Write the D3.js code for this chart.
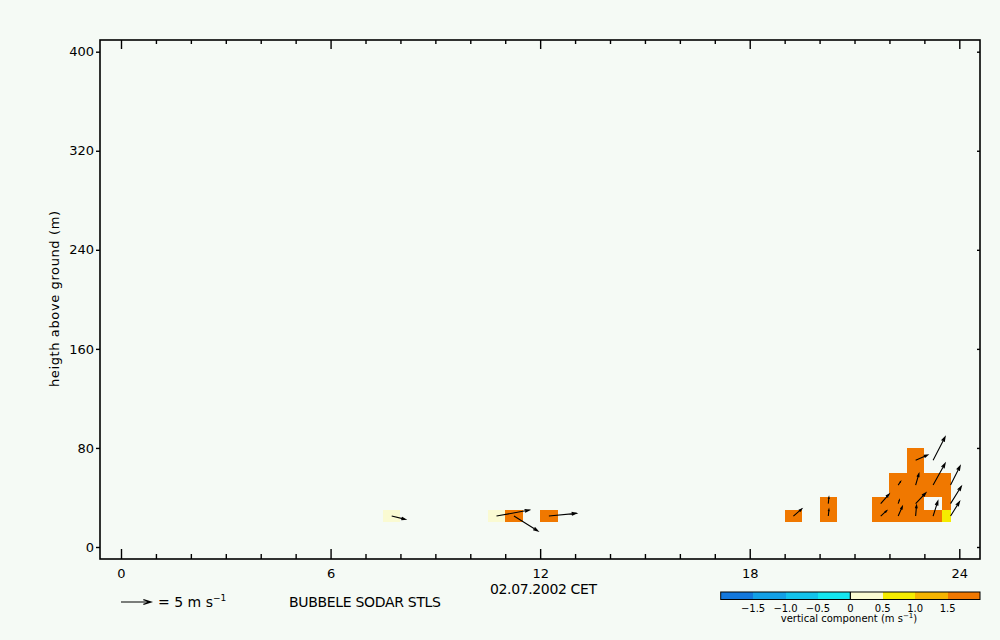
<!DOCTYPE html>
<html><head><meta charset="utf-8">
<script src="https://cdn.jsdelivr.net/npm/d3@7"></script>
<style>
html,body{margin:0;padding:0;background:#f5faf5;}
svg{display:block;}
text{font-family:"DejaVu Sans",sans-serif;fill:#000;}
</style>
</head><body>
<svg id="c" width="1000" height="640"></svg>
<script>
// ---- data ----
const obsTime   = [7.75, 10.75, 11.25, 12.25, 19.25, 20.25, 20.25, 21.75, 21.75, 22.25, 22.25, 22.25, 22.75, 22.75, 22.75, 22.75, 23.25, 23.25, 23.25, 23.75, 23.75, 23.75];
const obsHeight = [25,   25,    25,    25,    25,    25,    35,    25,    35,    25,    35,    50,    25,    35,    50,    70,    25,    50,    70,    25,    35,    50];
const obsW      = [0.3,  0.3,   1.7,   1.7,   1.7,   1.7,   1.7,   1.7,   1.7,   1.7,   1.7,   1.7,   1.7,   1.7,   1.7,   1.7,   1.7,   1.7,   null,  0.8,   1.7,   1.7];
const obsU      = [2.3,  5.5,   4.0,   4.6,   1.4,   0.1,   0.1,   1.0,   1.4,   0.7,   0.2,   0.4,   0.15,  1.7,   0.55,  2.0,   0.8,   2.0,   2.0,   1.5,   1.8,   1.6];
const obsV      = [-0.55,1.0,  -2.5,   0.45,  1.2,   1.1,   1.1,   0.9,   1.6,   1.6,   0.6,   0.6,   1.8,   1.8,   1.9,   0.9,   2.5,   3.6,   3.9,   2.4,   2.9,   3.2];

const gateHeights = [25, 35, 50, 70];
const gateLow     = [20, 30, 40, 60];
const gateHigh    = [30, 40, 60, 80];

const xTicks = [0, 6, 12, 18, 24];
const xMinorTicks = d3.range(0, 25, 1);
const yTicks = [0, 80, 160, 240, 320, 400];
const wThresholds = [-1.5, -1.0, -0.5, 0, 0.5, 1.0, 1.5];
const wColors = ["#1478dc", "#14a0e6", "#14c3ec", "#14e6f0", "#fafad2", "#f5ec00", "#f5b400", "#f07800"];
const legendTicks = [-1.5, -1.0, -0.5, 0, 0.5, 1.0, 1.5];
const legendLabels = ["\u22121.5", "\u22121.0", "\u22120.5", "0", "0.5", "1.0", "1.5"];
const refSpeed = 5;

// ---- layout ----
const svg = d3.select("#c");
svg.append("rect").attr("width", 1000).attr("height", 640).attr("fill", "#f5faf5");
const F = {l: 100, t: 40, r: 980, b: 559};
const x = d3.scaleLinear().domain([0, 24]).range([121, 959.3]);
const y = d3.scaleLinear().domain([0, 400]).range([547, 51.7]);
const color = d3.scaleThreshold().domain(wThresholds).range(wColors);
const pxPerMs = 6;
const tEnd = d3.max(obsTime);

const obs = obsTime.map((t, i) => {
  const g = gateHeights.indexOf(obsHeight[i]);
  return {t, h: obsHeight[i], w: obsW[i], u: obsU[i], v: obsV[i], lo: gateLow[g], hi: gateHigh[g]};
});

// cells
svg.append("g").selectAll("rect").data(obs.filter(d => d.w !== null)).join("rect")
  .attr("shape-rendering", "crispEdges")
  .attr("x", d => x(d.t - 0.25))
  .attr("width", d => x(Math.min(d.t + 0.25, tEnd)) - x(d.t - 0.25))
  .attr("y", d => y(d.hi))
  .attr("height", d => y(d.lo) - y(d.hi))
  .attr("fill", d => color(d.w));

function arrowPath(x0, y0, dx, dy, headMax, spread) {
  const len = Math.hypot(dx, dy);
  const x1 = x0 + dx, y1 = y0 + dy;
  if (len < 0.01) return "";
  const hl = Math.min(headMax, len * 0.3);
  const a = Math.atan2(dy, dx), s = spread;
  const p = d3.path();
  p.moveTo(x0, y0); p.lineTo(x1, y1);
  p.moveTo(x1 - hl * Math.cos(a - s), y1 - hl * Math.sin(a - s));
  p.lineTo(x1, y1);
  p.lineTo(x1 - hl * Math.cos(a + s), y1 - hl * Math.sin(a + s));
  return p.toString();
}

// arrows
svg.append("g").selectAll("path").data(obs).join("path")
  .attr("d", d => arrowPath(x(d.t), y(d.h), d.u * pxPerMs, -d.v * pxPerMs, 5, 0.3))
  .attr("fill", "none").attr("stroke", "#000").attr("stroke-width", 1.1);

// frame
svg.append("rect").attr("x", F.l).attr("y", F.t).attr("width", F.r - F.l).attr("height", F.b - F.t)
  .attr("fill", "none").attr("stroke", "#000").attr("stroke-width", 1.6);

function styleAxis(g) {
  g.select(".domain").remove();
  g.selectAll("line").attr("stroke", "#000").attr("stroke-width", 1.4);
  g.attr("font-family", null).attr("font-size", null);
  g.selectAll("text").style("font-size", "13px");
}
// bottom ticks (major + minor), inward
svg.append("g").attr("transform", `translate(0,${F.b})`)
  .call(d3.axisTop(x).tickValues(xMinorTicks.filter(v => v % 6 !== 0)).tickSize(5).tickFormat(""))
  .call(styleAxis);
svg.append("g").attr("transform", `translate(0,${F.b})`)
  .call(d3.axisTop(x).tickValues(xTicks).tickSize(10).tickFormat(""))
  .call(styleAxis);
// bottom labels
svg.append("g").attr("transform", `translate(0,${F.b})`)
  .call(d3.axisBottom(x).tickValues(xTicks).tickSize(0).tickPadding(9.5).tickFormat(d3.format("d")))
  .call(styleAxis);
// top ticks
svg.append("g").attr("transform", `translate(0,${F.t})`)
  .call(d3.axisBottom(x).tickValues(xMinorTicks.filter(v => v % 6 !== 0)).tickSize(4).tickFormat(""))
  .call(styleAxis);
svg.append("g").attr("transform", `translate(0,${F.t})`)
  .call(d3.axisBottom(x).tickValues(xTicks).tickSize(9).tickFormat(""))
  .call(styleAxis);
// left axis
svg.append("g").attr("transform", `translate(${F.l},0)`)
  .call(d3.axisLeft(y).tickValues(yTicks).tickSize(4).tickPadding(2).tickFormat(d3.format("d")))
  .call(styleAxis);
// right axis ticks inward
svg.append("g").attr("transform", `translate(${F.r},0)`)
  .call(d3.axisLeft(y).tickValues(yTicks).tickSize(3).tickFormat(""))
  .call(styleAxis);

// y title
svg.append("text").attr("transform", "translate(59,299) rotate(-90)")
  .attr("text-anchor", "middle").style("font-size", "13px")
  .attr("textLength", 176).attr("lengthAdjust", "spacing")
  .text("heigth above ground (m)");

// date label
svg.append("text").attr("x", 490).attr("y", 594).style("font-size", "14px")
  .attr("textLength", 107).attr("lengthAdjust", "spacing").text("02.07.2002 CET");
// station label
svg.append("text").attr("x", 289).attr("y", 607).style("font-size", "14px")
  .attr("textLength", 152).attr("lengthAdjust", "spacing").text("BUBBELE SODAR STLS");

// reference arrow
svg.append("path").attr("d", arrowPath(121, 602, refSpeed * pxPerMs, 0, 8, 0.3))
  .attr("fill", "none").attr("stroke", "#000").attr("stroke-width", 1.2);
const rt = svg.append("text").attr("x", 158).attr("y", 607).style("font-size", "14px");
rt.append("tspan").text("= " + refSpeed + " m s");
rt.append("tspan").attr("dy", -6).style("font-size", "9px").text("\u22121");

// colour bar
const lx = d3.scaleLinear().domain([-2, 2]).range([720.7, 980]);
const bounds = [-2].concat(wThresholds, [2]);
svg.append("g").selectAll("rect").data(wColors).join("rect")
  .attr("shape-rendering", "crispEdges")
  .attr("x", (c, i) => lx(bounds[i])).attr("width", (c, i) => lx(bounds[i + 1]) - lx(bounds[i]))
  .attr("y", 592).attr("height", 7.5).attr("fill", c => c);
svg.append("rect").attr("x", lx(-2)).attr("y", 592).attr("width", lx(2) - lx(-2)).attr("height", 7.5)
  .attr("fill", "none").attr("stroke", "#000").attr("stroke-width", 1);
svg.append("line").attr("x1", lx(0)).attr("x2", lx(0)).attr("y1", 592).attr("y2", 599.5)
  .attr("stroke", "#000").attr("stroke-width", 1.2);
svg.append("g").selectAll("text").data(legendTicks).join("text")
  .attr("x", d => lx(d)).attr("y", 612).attr("text-anchor", "middle").style("font-size", "10px")
  .text((d, i) => legendLabels[i]);
const vt = svg.append("text").attr("x", 849).attr("y", 622).attr("text-anchor", "middle").style("font-size", "10px");
vt.append("tspan").text("vertical component (m s");
vt.append("tspan").attr("dy", -4).style("font-size", "7px").text("\u22121");
vt.append("tspan").attr("dy", 4).text(")");
</script>
</body></html>
